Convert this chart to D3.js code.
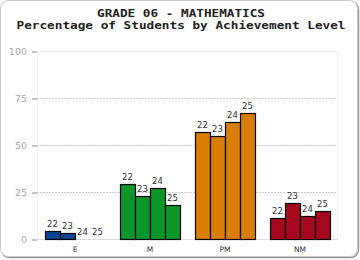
<!DOCTYPE html>
<html>
<head>
<meta charset="utf-8">
<script src="https://cdn.jsdelivr.net/npm/d3@7"></script>
<style>
  body { margin: 0; background: #fff; }
</style>
</head>
<body>
<div id="chart"></div>
<script>
const levels = ["E", "M", "PM", "NM"];
const years = ["22", "23", "24", "25"];
const eValues = [4, 3, 0, 0];
const mValues = [29, 23, 27, 18];
const pmValues = [57, 55, 62, 67];
const nmValues = [11, 19, 12, 15];
const yTicks = [0, 25, 50, 75, 100];
const colors = ["#0d4592", "#0a9628", "#d87d06", "#a4071e"];

const values = [eValues, mValues, pmValues, nmValues];

const svg = d3.select("#chart")
    .append("svg")
    .attr("width", 360)
    .attr("height", 260);

// frame with a little shadow on the right/bottom
svg.append("rect")
    .attr("x", 1.5).attr("y", 1.5)
    .attr("width", 357).attr("height", 256)
    .attr("rx", 8)
    .style("fill", "none")
    .style("stroke", "#999")
    .style("stroke-width", 1.5);
svg.append("rect")
    .attr("x", 0.5).attr("y", 0.5)
    .attr("width", 357).attr("height", 256)
    .attr("rx", 8)
    .style("fill", "#fff")
    .style("stroke", "#c8c8c8");

// titles, stretched to the widths seen in the picture
svg.append("text")
    .attr("x", 181).attr("y", 17)
    .attr("textLength", 168)
    .attr("lengthAdjust", "spacingAndGlyphs")
    .style("text-anchor", "middle")
    .style("font-family", "DejaVu Sans Mono")
    .style("font-weight", "bold")
    .style("font-size", "10px")
    .style("fill", "#222")
    .text("GRADE 06 - MATHEMATICS");
svg.append("text")
    .attr("x", 181).attr("y", 29)
    .attr("textLength", 329)
    .attr("lengthAdjust", "spacingAndGlyphs")
    .style("text-anchor", "middle")
    .style("font-family", "DejaVu Sans Mono")
    .style("font-weight", "bold")
    .style("font-size", "10px")
    .style("fill", "#222")
    .text("Percentage of Students by Achievement Level");

const x = d3.scaleBand()
    .domain(levels)
    .range([37.5, 337.5])
    .paddingInner(0.2)
    .paddingOuter(0.1);

const xSub = d3.scaleBand()
    .domain(years)
    .range([0, x.bandwidth()]);

const y = d3.scaleLinear()
    .domain([0, 100])
    .range([239, 51]);

// plot area outline
svg.append("rect")
    .attr("x", 37.5).attr("y", y(100) + 0.5)
    .attr("width", 300).attr("height", y(0) - y(100))
    .style("fill", "none")
    .style("stroke", "#eee");

// gridlines
svg.selectAll(".grid")
    .data(yTicks.filter(d => d > 0 && d < 100))
    .enter()
    .append("line")
    .attr("class", "grid")
    .attr("x1", 37.5).attr("x2", 337.5)
    .attr("y1", d => Math.round(y(d)) + 0.5)
    .attr("y2", d => Math.round(y(d)) + 0.5)
    .style("stroke", "#999")
    .style("stroke-dasharray", "1,2");

// y axis
const yAxis = svg.append("g")
    .attr("transform", "translate(37,0.5)")
    .call(d3.axisLeft(y).tickValues(yTicks).tickSize(5).tickPadding(5));
yAxis.select(".domain").remove();
yAxis.selectAll("line").style("stroke", "#888");
yAxis.selectAll("text")
    .style("font-family", "DejaVu Sans")
    .style("font-size", "9.5px")
    .style("fill", "#aaa");

// baseline
svg.append("line")
    .attr("x1", 37.5).attr("x2", 337.5)
    .attr("y1", 239.5).attr("y2", 239.5)
    .style("stroke", "#ddd");

// x axis labels
const xAxis = svg.append("g")
    .attr("transform", "translate(0,243)")
    .call(d3.axisBottom(x).tickSize(0).tickPadding(4));
xAxis.select(".domain").remove();
xAxis.selectAll("text")
    .style("font-family", "DejaVu Sans")
    .style("font-size", "7.5px")
    .style("fill", "#333");

// bars
const groups = svg.selectAll(".group")
    .data(levels)
    .enter()
    .append("g")
    .attr("class", "group")
    .attr("transform", d => "translate(" + x(d) + ",0)");

groups.selectAll("rect")
    .data((d, i) => values[i].map((v, j) => ({ year: years[j], value: v, color: colors[i] })))
    .enter()
    .filter(d => d.value > 0)
    .append("rect")
    .attr("x", d => xSub(d.year) + 0.5)
    .attr("y", d => Math.round(y(d.value)) + 0.5)
    .attr("width", xSub.bandwidth())
    .attr("height", d => y(0) - Math.round(y(d.value)))
    .style("fill", d => d.color)
    .style("stroke", "#000")
    .style("stroke-width", 1.2);

groups.selectAll(".val")
    .data((d, i) => values[i].map((v, j) => ({ year: years[j], value: v })))
    .enter()
    .append("text")
    .attr("class", "val")
    .attr("x", d => xSub(d.year) + xSub.bandwidth() / 2)
    .attr("y", d => y(d.value) - 4)
    .style("text-anchor", "middle")
    .style("font-family", "DejaVu Sans")
    .style("font-size", "8.5px")
    .style("fill", "#333")
    .text(d => d.year);
</script>
</body>
</html>
